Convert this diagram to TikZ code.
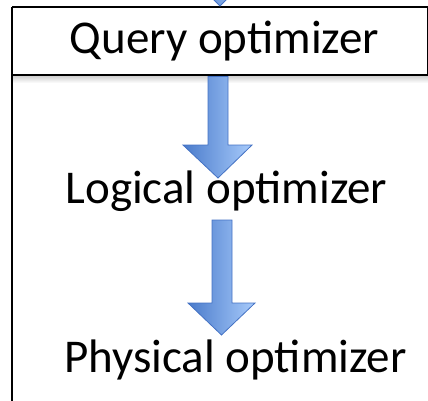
\documentclass[tikz,border=0pt]{standalone}
\usepackage{fontspec}
\setmainfont{Carlito}
\usetikzlibrary{shadows}
\definecolor{arrowdark}{HTML}{4A7BCB}
\definecolor{arrowlight}{HTML}{A8CBFB}
\definecolor{arrowline}{HTML}{4472C4}
\tikzset{
  lbl/.style={inner sep=0pt, font=\fontsize{47}{50}\selectfont, anchor=base},
  bigarrow/.style={draw=arrowline, line width=0.8pt, left color=arrowdark, right color=arrowlight, line join=miter},
  frameline/.style={draw=black, line width=1.6pt},
}
\begin{document}
\begin{tikzpicture}[x=1pt,y=-1pt]
\useasboundingbox (0,0) rectangle (428,400);
% frame
\shade[top color=black!18, bottom color=white] (13,76) rectangle (428,83);
\fill[white] (12,7) rectangle (428,75);
\draw[frameline, line width=1.2pt] (12,7) -- (428,7);
\draw[frameline] (12,7) -- (12,401);
\draw[frameline] (427.5,7) -- (427.5,75);
\draw[frameline, line width=2.2pt] (12,75) -- (428,75);
% top arrow (only tip visible)
\draw[bigarrow] (210,-40) -- (230,-40) -- (230,-28) -- (254,-28) -- (220,6) -- (186,-28) -- (210,-28) -- cycle;
% labels
\node[lbl] (q) at (224.5,53) {Query optimizer};
\node[lbl] (l) at (226.5,203) {Logical optimizer};
\node[lbl] (p) at (235.5,372) {Physical optimizer};
% arrows
\draw[bigarrow] (208,76.5) -- (228,76.5) -- (228,145) -- (252,145) -- (218,178) -- (183,145) -- (208,145) -- cycle;
\draw[bigarrow] (212,220) -- (232,220) -- (232,303) -- (255,303) -- (221.5,335) -- (188,303) -- (212,303) -- cycle;
\end{tikzpicture}
\end{document}
